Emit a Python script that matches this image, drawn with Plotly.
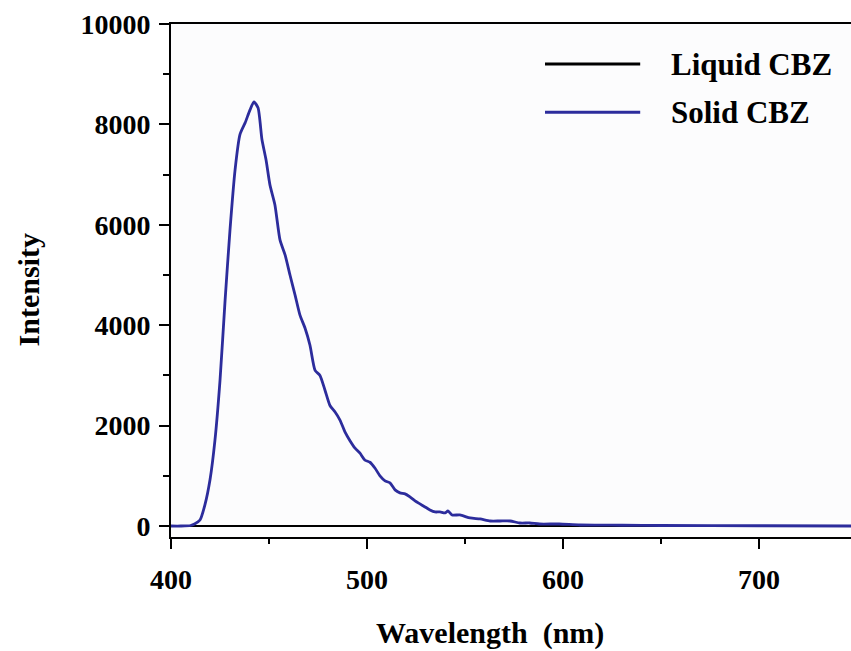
import plotly.graph_objects as go

# Data
solid_wavelength = [400, 405, 410, 412, 414.8, 417.3, 419.9, 422.4, 425, 427.6, 430.1, 432.7, 435.2,
                    437.8, 440.3, 442.3, 444.4, 446.4, 448.5, 450.5, 453, 455.6, 458.2, 460.7, 463.3,
                    465.8, 468.4, 470.9, 473.5, 476, 478.6, 481.1, 483.7, 486.2, 488.8, 491.3, 493.9,
                    496.4, 499, 501.5, 504.1, 506.6, 509.2, 511.7, 514.3, 516.8, 519.4, 521.9, 524.5,
                    527, 529.6, 532.1, 534.7, 537.2, 539.8, 541.3, 543.4, 547.4, 552.6, 557.7, 562.8,
                    567.9, 573, 578, 583, 588, 598, 608.7, 630, 650, 700, 747]
solid_intensity = [0, 0, 10, 40, 120, 420, 920, 1700, 2900, 4500, 5900, 7100, 7800,
                   8030, 8290, 8450, 8330, 7700, 7290, 6790, 6400, 5700, 5400, 5000, 4600,
                   4200, 3940, 3600, 3100, 3000, 2700, 2400, 2270, 2110, 1870, 1700, 1550,
                   1450, 1310, 1270, 1150, 1000, 900, 860, 720, 660, 640, 580, 500,
                   440, 380, 320, 280, 280, 260, 300, 220, 220, 160, 140, 100,
                   100, 100, 60, 60, 40, 40, 20, 15, 10, 5, 0]
liquid_wavelength = [400, 747]
liquid_intensity = [0, 0]

x_ticks = [400, 500, 600, 700]
x_tick_labels = ["400", "500", "600", "700"]
y_ticks = [0, 2000, 4000, 6000, 8000, 10000]
y_tick_labels = ["0", "2000", "4000", "6000", "8000", "10000"]

FONT = "Liberation Serif, Times New Roman, serif"
fig = go.Figure()
fig.add_trace(go.Scatter(x=liquid_wavelength, y=liquid_intensity, mode="lines",
                         line=dict(color="black", width=2), name="Liquid CBZ", showlegend=False))
fig.add_trace(go.Scatter(x=solid_wavelength, y=solid_intensity, mode="lines",
                         line=dict(color="#2c2c9c", width=2.8, shape="spline", smoothing=0.6),
                         name="Solid CBZ", showlegend=False))

# Manual legend (long sample lines as in the reference)
legend_items = [("Liquid CBZ", "black", 0.922), ("Solid CBZ", "#2c2c9c", 0.828)]
for label, color, yy in legend_items:
    fig.add_shape(type="line", xref="paper", yref="paper", x0=0.55, x1=0.69, y0=yy, y1=yy,
                  line=dict(color=color, width=2.8))
    fig.add_annotation(text=label, xref="paper", yref="paper", x=0.733, y=yy, xanchor="left",
                       yanchor="middle", showarrow=False,
                       font=dict(family=FONT, size=31, color="black", weight="bold"))

fig.add_annotation(text="Wavelength&nbsp;&nbsp;(nm)", xref="paper", yref="paper", x=0.469, y=-0.187,
                   xanchor="center", yanchor="middle", showarrow=False,
                   font=dict(family=FONT, size=30, color="black", weight="bold"))
fig.add_annotation(text="Intensity", xref="paper", yref="paper", x=-0.210, y=0.481, textangle=-90,
                   xanchor="center", yanchor="middle", showarrow=False,
                   font=dict(family=FONT, size=30, color="black", weight="bold"))

fig.update_layout(
    width=851, height=651,
    margin=dict(l=171, r=0, t=24, b=114),
    paper_bgcolor="white", plot_bgcolor="#fcfcfd",
    xaxis=dict(range=[400, 746.9], tickvals=x_ticks, ticktext=x_tick_labels, showgrid=False, zeroline=False,
               showline=True, linecolor="black", linewidth=2, mirror=True,
               ticks="outside", ticklen=10, tickwidth=2, tickcolor="black",
               minor=dict(ticks="outside", ticklen=5, tickwidth=2, tickcolor="black", dtick=50, tick0=400,
                          showgrid=False),
               tickfont=dict(family=FONT, size=28, color="black", weight="bold"),
               ticklabelstandoff=6),
    yaxis=dict(range=[-219, 10000], tickvals=y_ticks, ticktext=y_tick_labels, showgrid=False, zeroline=False,
               showline=True, linecolor="black", linewidth=2,
               ticks="outside", ticklen=10, tickwidth=2, tickcolor="black",
               minor=dict(ticks="outside", ticklen=6, tickwidth=2, tickcolor="black", dtick=1000, tick0=0,
                          showgrid=False),
               tickfont=dict(family=FONT, size=28, color="black", weight="bold"),
               ticklabelstandoff=3),
)
fig.write_html("out.html")
